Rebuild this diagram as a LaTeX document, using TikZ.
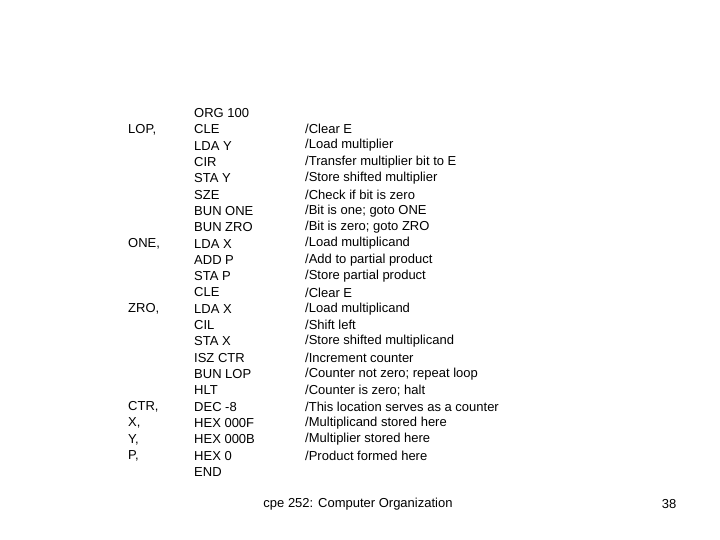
\documentclass[tikz,border=0pt]{standalone}
\usepackage{fontspec}
\setmainfont{Liberation Sans}
\begin{document}
\begin{tikzpicture}[x=1pt,y=-1pt,txt/.style={anchor=west,inner sep=0pt,font=\fontsize{13}{15}\selectfont}]
\useasboundingbox (0,0) rectangle (720,540);
\def\ops{{"ORG  100","CLE","LDA  Y","CIR","STA  Y","SZE","BUN  ONE","BUN  ZRO","LDA  X","ADD  P","STA  P","CLE","LDA  X","CIL","STA  X","ISZ  CTR","BUN  LOP","HLT","DEC  -8","HEX  000F","HEX  000B","HEX  0","END"}}
\def\cms{{"","/ Clear E","/ Load multiplier","/ Transfer multiplier bit to E","/ Store shifted multiplier","/ Check if bit is zero","/ Bit is one; goto ONE","/ Bit is zero; goto ZRO","/ Load multiplicand","/ Add to partial product","/ Store partial product","/ Clear E","/ Load multiplicand","/ Shift left","/ Store shifted multiplicand","/ Increment counter","/ Counter not zero; repeat loop","/ Counter is zero; halt","/ This location serves as a counter","/ Multiplicand stored here","/ Multiplier stored here","/ Product formed here",""}}
\foreach \i in {0,...,22}{
  \pgfmathsetmacro\yy{113+16.32*\i}
  \node[txt] (op\i) at (194,\yy) {\pgfmathparse{\ops[\i]}\pgfmathresult};
  \node[txt] (cm\i) at (305,\yy) {\pgfmathparse{\cms[\i]}\pgfmathresult};
}
\foreach \r/\l in {1/LOP,8/ONE,12/ZRO,18/CTR,19/X,20/Y,21/P}{
  \pgfmathsetmacro\yy{113+16.32*\r}
  \node[txt] (lb\l) at (128,\yy) {\l,};
}
\node[txt,anchor=center] (foot) at (358,504) {cpe 252: Computer Organization};
\node[txt,anchor=center] (pg) at (669,504) {38};
\end{tikzpicture}
\end{document}
